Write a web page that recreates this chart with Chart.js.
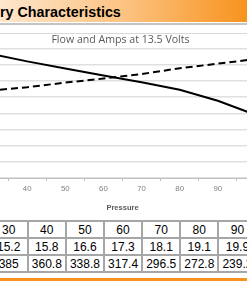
<!DOCTYPE html>
<html>
<head>
<meta charset="utf-8">
<script src="https://cdn.jsdelivr.net/npm/chart.js@4"></script>
<style>
  html, body { margin: 0; padding: 0; width: 247px; height: 281px; overflow: hidden; background: #fff; position: relative; }
  #header {
    position: absolute; left: 0; top: 0; width: 247px; height: 22px;
    background: linear-gradient(to right, #fee6cc 0%, #fcc383 50%, #f7931e 100%);
  }
  #header span {
    position: absolute; left: 0; top: 4px; line-height: 15px;
    font: bold 14.3px "Liberation Sans", Arial, sans-serif; color: #000; white-space: nowrap;
  }
  #rule1 { position: absolute; left: 0; top: 23px; width: 247px; height: 2px; background: #c4c4c4; }
  #rule2 { position: absolute; left: 0; top: 33px; width: 247px; height: 1px; background: #d9d9d9; }
  #wrap { position: absolute; left: -70px; top: 34px; width: 381px; height: 182px; }
  #data {
    position: absolute; left: -11.4px; top: 220px; width: 307px;
    border-collapse: collapse; table-layout: fixed;
    font: 12px "Liberation Sans", Arial, sans-serif; color: #000;
  }
  #data td { border: 2px solid #a6a6a6; height: 15px; padding: 0; text-align: center; white-space: nowrap; overflow: hidden; }
  #footer { position: absolute; left: 0; top: 278px; width: 247px; height: 3px; background: #f7931e; }
</style>
</head>
<body>
<div id="header"><span>ry Characteristics</span></div>
<div id="rule1"></div>
<div id="rule2"></div>
<div id="wrap"><canvas id="flowChart" width="381" height="182"></canvas></div>
<table id="data"></table>
<div id="footer"></div>
<script>
// Pressure steps with the measured amps and flow
const pressure = [30, 40, 50, 60, 70, 80, 90, 100];
const amps = [15.2, 15.8, 16.6, 17.3, 18.1, 19.1, 19.9, 20.7];
const flow = [385, 360.8, 338.8, 317.4, 296.5, 272.8, 239.2, 195];

// Data table under the chart
const table = document.getElementById('data');
[pressure, amps, flow].forEach(row => {
    const tr = document.createElement('tr');
    row.forEach(v => {
        const td = document.createElement('td');
        td.textContent = String(v);
        tr.appendChild(td);
    });
    table.appendChild(tr);
});

const ctx = document.getElementById('flowChart').getContext('2d');

new Chart(ctx, {
    type: 'line',
    data: {
        labels: pressure,
        datasets: [{
            label: 'Flow',
            data: flow,
            yAxisID: 'y',
            borderColor: '#000',
            borderWidth: 2,
            pointRadius: 0,
            tension: 0,
            fill: false
        }, {
            label: 'Amps',
            data: amps,
            yAxisID: 'y1',
            borderColor: '#000',
            borderWidth: 2,
            borderDash: [7, 4],
            pointRadius: 0,
            tension: 0,
            fill: false
        }]
    },
    options: {
        responsive: false,
        animation: false,
        layout: { padding: 0 },
        scales: {
            x: {
                type: 'category',
                offset: true,
                grid: {
                    offset: true,
                    drawOnChartArea: false,
                    drawTicks: true,
                    tickLength: 3,
                    color: '#bfbfbf'
                },
                border: { color: '#bfbfbf', width: 1 },
                ticks: {
                    color: '#7f7f7f',
                    font: { family: 'Liberation Sans', size: 7.8 },
                    padding: 3,
                    maxRotation: 0
                },
                title: {
                    display: true,
                    text: 'Pressure',
                    color: '#595959',
                    font: { family: 'Liberation Sans', size: 7.5, weight: 'bold' },
                    padding: { top: 2, bottom: 4 }
                },
                afterFit: scale => { scale.height = 38; }
            },
            y: {
                position: 'left',
                min: 0,
                max: 400,
                ticks: { stepSize: 50, display: false },
                grid: { color: '#e0e0e0', lineWidth: 1.5, drawTicks: false },
                border: { display: false },
                afterFit: scale => { scale.width = 40; }
            },
            y1: {
                position: 'right',
                min: 0,
                max: 22.5,
                ticks: { display: false },
                grid: { display: false, drawTicks: false },
                border: { display: false },
                afterFit: scale => { scale.width = 36; }
            }
        },
        plugins: {
            legend: { display: false },
            tooltip: { enabled: false },
            title: {
                display: true,
                text: 'Flow and Amps at 13.5 Volts',
                color: '#595959',
                font: { family: 'Open Sans', size: 10.6, weight: 'normal' },
                padding: { top: 0, bottom: 2 }
            }
        }
    }
});
</script>
</body>
</html>
